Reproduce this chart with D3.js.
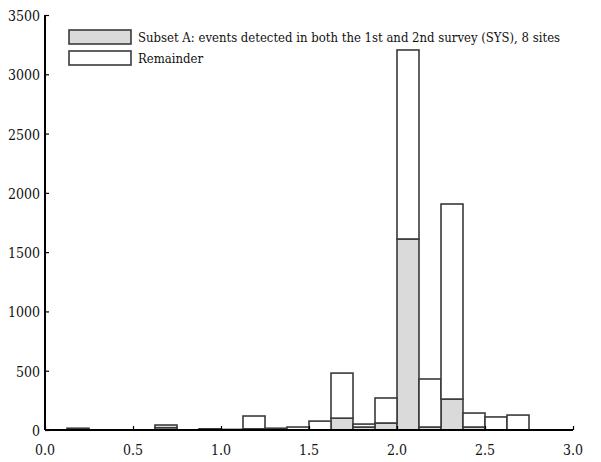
<!DOCTYPE html>
<html>
<head>
<meta charset="utf-8">
<script src="https://cdn.jsdelivr.net/npm/d3@7"></script>
<style>
  body { margin: 0; background: #fff; }
  svg { display: block; }
  text { font-family: "DejaVu Serif", "Liberation Serif", serif; font-stretch: condensed; fill: #111; }
</style>
</head>
<body>
<svg id="chart" width="601" height="462"></svg>
<script>
// bin start positions (bin width 0.125)
const binStarts = [0, 0.125, 0.25, 0.375, 0.5, 0.625, 0.75, 0.875,
                   1.0, 1.125, 1.25, 1.375, 1.5, 1.625, 1.75, 1.875,
                   2.0, 2.125, 2.25, 2.375, 2.5, 2.625, 2.75, 2.875];
const binWidth = 0.125;
const subsetValues =    [0, 0, 0, 0, 0, 20, 0, 0, 0, 10, 0, 0, 0, 100, 25, 59, 1611, 25, 261, 25, 0, 0, 0, 0];
const remainderValues = [0, 15, 0, 0, 0, 22, 0, 10, 5, 108, 15, 25, 75, 380, 25, 211, 1594, 405, 1645, 118, 110, 126, 0, 0];
const seriesNames = ["Subset A: events detected in both the 1st and 2nd survey (SYS), 8 sites", "Remainder"];
const yTicks = [0, 500, 1000, 1500, 2000, 2500, 3000, 3500];
const xTicks = [0, 0.5, 1.0, 1.5, 2.0, 2.5, 3.0];
const xTickLabels = ["0.0", "0.5", "1.0", "1.5", "2.0", "2.5", "3.0"];
const seriesColors = ["#dadada", "#ffffff"];

const svg = d3.select("#chart");
const x = d3.scaleLinear().domain([0, 3]).range([45, 573]);
const y = d3.scaleLinear().domain([0, 3500]).range([430, 15]);

const table = binStarts.map((b, i) => ({ b, s0: subsetValues[i], s1: remainderValues[i] }));
const stack = d3.stack().keys(["s0", "s1"]);
const layers = stack(table);

svg.append("g").selectAll("g")
  .data(layers)
  .join("g")
  .attr("fill", (d, i) => seriesColors[i])
  .selectAll("rect")
  .data(d => d.filter(p => p[1] - p[0] > 0))
  .join("rect")
  .attr("x", d => x(d.data.b))
  .attr("width", d => x(d.data.b + binWidth) - x(d.data.b))
  .attr("y", d => y(d[1]))
  .attr("height", d => y(d[0]) - y(d[1]))
  .attr("stroke", "#3a3a3a")
  .attr("stroke-width", 1.6);

// y axis (ticks inward)
const yAxis = d3.axisRight(y).tickValues(yTicks).tickSize(4).tickFormat("");
const gy = svg.append("g").attr("transform", "translate(45,0)").call(yAxis);
gy.select(".domain").attr("stroke", "#000").attr("stroke-width", 2).attr("d", `M0,${y(3500)}V${y(0)}`);
gy.selectAll(".tick line").attr("stroke", "#000").attr("stroke-width", 1.2);
svg.append("g").selectAll("text")
  .data(yTicks)
  .join("text")
  .attr("x", 40)
  .attr("y", d => y(d) + 6)
  .attr("text-anchor", "end")
  .attr("font-size", 14)
  .text(d => d);

// x axis (ticks inward)
const xAxis = d3.axisTop(x).tickValues(xTicks).tickSize(4).tickFormat("");
const gx = svg.append("g").attr("transform", "translate(0,430)").call(xAxis);
gx.select(".domain").attr("stroke", "#000").attr("stroke-width", 2).attr("d", `M${x(0)},0H${x(3)}`);
gx.selectAll(".tick line").attr("stroke", "#000").attr("stroke-width", 1.2);
svg.append("g").selectAll("text")
  .data(xTicks)
  .join("text")
  .attr("x", d => x(d))
  .attr("y", 455)
  .attr("text-anchor", "middle")
  .attr("font-size", 14)
  .text((d, i) => xTickLabels[i]);

// legend
const legend = svg.append("g");
seriesNames.forEach((name, i) => {
  const ly = 30 + i * 21;
  legend.append("rect")
    .attr("x", 69).attr("y", ly).attr("width", 62).attr("height", 14)
    .attr("fill", seriesColors[i]).attr("stroke", "#3a3a3a").attr("stroke-width", 1.6);
  legend.append("text")
    .attr("x", 138).attr("y", ly + 12)
    .attr("font-size", 13)
    .text(name);
});
</script>
</body>
</html>
